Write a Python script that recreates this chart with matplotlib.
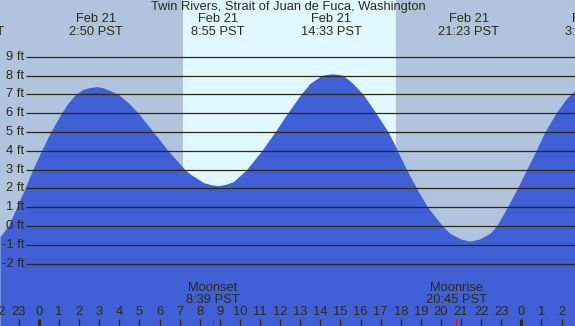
import matplotlib
matplotlib.use("Agg")
import matplotlib.pyplot as plt

# tide heights (hour of Feb 21, feet)
hours = [-1.94,-1.53,-1.11,-0.70,-0.31,0.12,0.58,1.12,1.42,1.82,2.20,2.50,2.87,3.20,3.53,3.95,
         4.45,4.94,5.27,5.69,6.43,7.26,7.51,8.18,8.55,8.92,9.30,9.67,10.33,11.08,11.74,12.37,
         13.03,13.50,14.06,14.30,14.61,14.90,15.14,15.60,16.13,16.77,17.38,17.84,18.29,18.79,
         19.34,20.08,20.45,21.00,21.44,21.90,22.44,22.77,23.30,23.80,24.26,24.73,25.17,25.72,
         26.25,26.67]
heights = [-0.57,0.0,1.0,2.0,3.0,4.0,5.0,6.0,6.5,7.0,7.27,7.36,7.41,7.35,7.2,7.0,
           6.55,6.0,5.55,5.0,4.0,3.0,2.77,2.31,2.2,2.14,2.22,2.36,3.0,4.0,5.0,6.0,
           7.0,7.6,8.0,8.06,8.09,8.06,8.0,7.6,7.0,6.0,5.0,4.0,3.0,2.0,
           1.0,0.0,-0.39,-0.7,-0.8,-0.7,-0.39,0.0,1.0,2.0,3.0,4.0,5.0,6.0,
           6.79,7.2]

# highs / lows
ev_dates = ["Feb 20","Feb 21","Feb 21","Feb 21","Feb 21","Feb 22"]
ev_times = ["20:44","2:50","8:55","14:33","21:23","3:31"]
ev_day = [-1,0,0,0,0,1]

moon_names = ["Moonset","Moonrise"]
moon_times = ["8:39","20:45"]

sunrise, sunset = 7.16, 17.76
ft_levels = list(range(-2,10))
hour_ticks = list(range(-2,27))

def to_h(s, d=0):
    hh, mm = s.split(":"); return int(hh)+int(mm)/60+24*d

X0, X1, Y0, Y1 = -1.94, 26.67, -5.32, 12.02
NIGHT, DAY, SEA, INK = "#b0c4de", "#e0f8ff", "#4160d8", "#2b2b0f"
FONT = "Liberation Sans"; FS = 9.3

fig = plt.figure(figsize=(5.75,3.26), dpi=100)
ax = fig.add_axes([0,0,1,1])
ax.set_xlim(X0,X1); ax.set_ylim(Y0,Y1); ax.axis("off")

ax.axvspan(X0, sunrise, color=NIGHT, lw=0)
ax.axvspan(sunrise, sunset, color=DAY, lw=0)
ax.axvspan(sunset, X1, color=NIGHT, lw=0)
ax.fill_between(hours, heights, Y0, color=SEA, lw=0)

for f in ft_levels:
    ax.hlines(f, -0.65, X1, color=INK, lw=0.9)
    ax.text(-0.74, f, f"{f} ft", ha="right", va="center", color=INK, family=FONT, fontsize=FS)

ax.text(12.4, 11.66, "Twin Rivers, Strait of Juan de Fuca, Washington", ha="center", va="center",
        color=INK, family=FONT, fontsize=FS)
for d, t, k in zip(ev_dates, ev_times, ev_day):
    h = to_h(t, k)
    ax.text(h, 11.0, d, ha="center", va="center", color=INK, family=FONT, fontsize=FS)
    ax.text(h, 10.34, f"{t} PST", ha="center", va="center", color=INK, family=FONT, fontsize=FS)

for n, t in zip(moon_names, moon_times):
    h = to_h(t)
    ax.text(h, -3.3, n, ha="center", va="center", color=INK, family=FONT, fontsize=FS)
    ax.text(h, -3.94, f"{t} PST", ha="center", va="center", color=INK, family=FONT, fontsize=FS)
    ax.vlines(h, Y0, -4.93, color="#e01010", lw=0.8)

for h in hour_ticks:
    ax.text(h, -4.55, str(h % 24), ha="center", va="center", color=INK, family=FONT, fontsize=FS)
    if h % 24 == 0:
        ax.vlines(h, Y0, -4.93, color=INK, lw=2.2)
    else:
        ax.vlines(h, Y0, -4.93, color=INK, lw=0.9)

fig.savefig("out.png", dpi=100)
